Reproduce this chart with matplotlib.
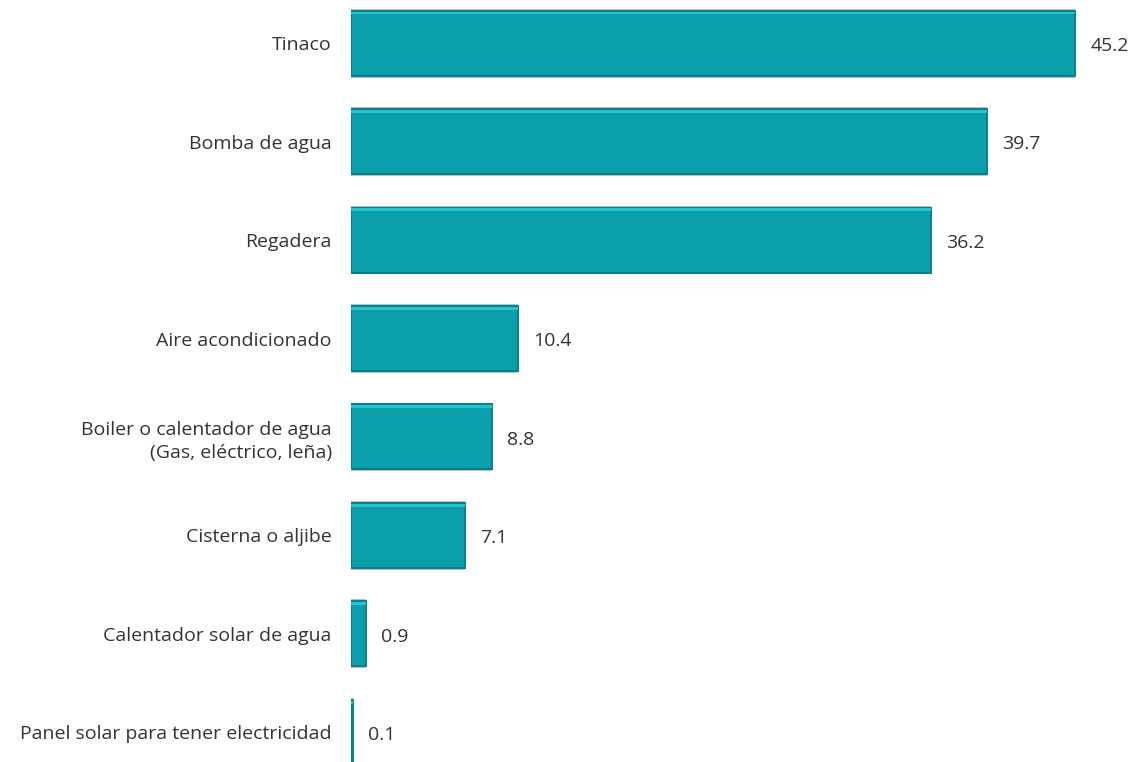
import matplotlib.pyplot as plt

categorias = ["Tinaco", "Bomba de agua", "Regadera", "Aire acondicionado",
              "Boiler o calentador de agua\n(Gas, eléctrico, leña)",
              "Cisterna o aljibe", "Calentador solar de agua",
              "Panel solar para tener electricidad"]
valores = [45.2, 39.7, 36.2, 10.4, 8.8, 7.1, 0.9, 0.1]

plt.rcParams['font.family'] = ['Open Sans', 'DejaVu Sans']

fig = plt.figure(figsize=(11.33, 7.62), dpi=100)
ax = fig.add_axes([0.31, 0.0, 0.69, 1.0])

pos = list(range(len(valores)))
# grey outline/shadow then bar with darker bevel edge
ax.barh(pos, valores, height=0.70, color='#b9bfc0', zorder=1)
ax.barh(pos, valores, height=0.66, color='#0a9fab', edgecolor='#0a7f88',
        linewidth=1.4, zorder=2)
# soft top highlight
ax.barh([p - 0.305 for p in pos], valores, height=0.03, color='#25c3ce',
        linewidth=0, zorder=3)

for p, v in zip(pos, valores):
    ax.text(v + 0.95, p + 0.03, f"{v:.1f}", va='center', ha='left',
            fontsize=14, color='#333333')

ax.set_yticks(pos)
ax.set_yticklabels(categorias, fontsize=14, color='#333333', linespacing=1.35)
ax.tick_params(axis='y', length=0, pad=14)
ax.set_xticks([])
ax.set_xlim(0, 48.8)
ax.set_ylim(7.30, -0.437)
for s in ax.spines.values():
    s.set_visible(False)

fig.savefig('out.png', dpi=100)
